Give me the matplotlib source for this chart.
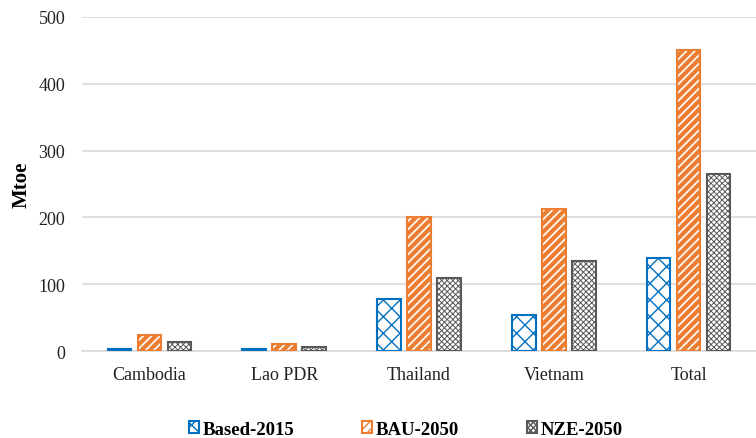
import numpy as np
import matplotlib.pyplot as plt
from matplotlib.patches import Patch

plt.rcParams['font.family'] = ['Liberation Serif', 'DejaVu Serif']

categories = ['Cambodia', 'Lao PDR', 'Thailand', 'Vietnam', 'Total']
based_2015 = [3, 2.5, 78, 54, 139]
bau_2050 = [24, 10, 201, 213, 450]
nze_2050 = [14, 6, 109, 135, 265]

series = [
    ('Based-2015', based_2015, '#0070C0', 'xx'),
    ('BAU-2050', bau_2050, '#ED7D31', '////'),
    ('NZE-2050', nze_2050, '#595959', 'xxxxxx'),
]

fig = plt.figure(figsize=(7.56, 4.39), dpi=100)
ax = fig.add_axes([0.1085, 0.198, 0.8915, 0.761])

x = np.arange(len(categories))
width = 0.175
step = 0.222
hatch_lw = [1.0, 3.0, 0.7]

for k, (name, vals, col, hatch) in enumerate(series):
    bars = ax.bar(x + (k - 1) * step, vals, width, facecolor='white',
                  edgecolor=col, hatch=hatch, linewidth=1.5, zorder=3)
    for b in bars:
        if hasattr(b, 'set_hatch_linewidth'):
            b.set_hatch_linewidth(hatch_lw[k])

ax.set_xlim(-0.5, len(categories) - 0.5)
ax.set_ylim(0, 500)
ax.set_yticks(np.arange(0, 501, 100))
ax.set_xticks(x)
ax.set_xticklabels(categories)
ax.tick_params(axis='both', length=0, labelsize=13, colors='#222222')
ax.tick_params(axis='x', pad=11)
ax.tick_params(axis='y', pad=12)
ax.yaxis.grid(True, color='#d9d9d9', linewidth=1.2, zorder=0)
ax.set_axisbelow(True)
for s in ['top', 'right', 'left']:
    ax.spines[s].set_visible(False)
ax.spines['bottom'].set_color('#d9d9d9')
ax.spines['bottom'].set_linewidth(1.2)
ax.set_ylabel('Mtoe', fontsize=15, fontweight='bold', labelpad=5)

handles = [Patch(facecolor='white', edgecolor=c, hatch=h, linewidth=1.5, label=n)
           for n, v, c, h in series]
fig.legend(handles=handles, loc='center', bbox_to_anchor=(0.537, 0.02),
           ncol=3, frameon=False, prop={'weight': 'bold', 'size': 13.5},
           handlelength=0.55, handleheight=0.55, handletextpad=0.2,
           columnspacing=3.6)

fig.savefig('out.png', dpi=100)
